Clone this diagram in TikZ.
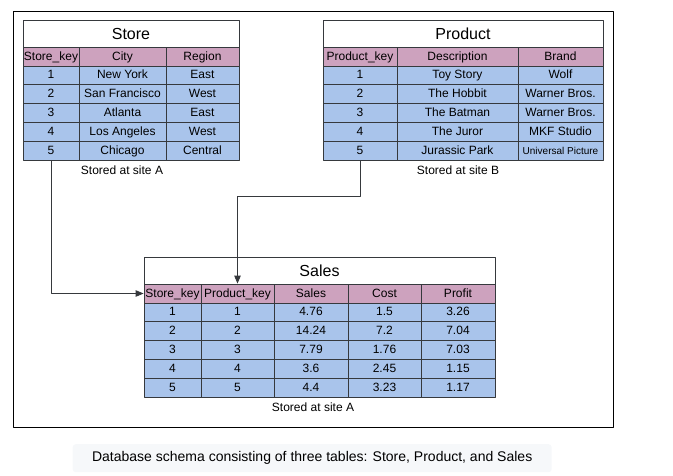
\documentclass[tikz,border=0pt]{standalone}
\usepackage{fontspec}
\setmainfont{Liberation Sans}
\usetikzlibrary{arrows}
\definecolor{headpink}{HTML}{CDA2BE}
\definecolor{rowblue}{HTML}{A9C4EB}
\definecolor{cellline}{HTML}{36393D}
\definecolor{capbg}{HTML}{F6F8FA}

\begin{document}
\begin{tikzpicture}[line cap=round,line join=round,>=triangle 45,x=1pt,y=-1pt,
		cw/.style={minimum width=#1},
		titlebox/.style={draw=cellline,fill=white,line width=0.8pt,minimum height=27pt,inner sep=0pt,text height=11.5pt,text depth=0.5pt,font=\fontsize{16}{18}\selectfont},
		headcell/.style={draw=cellline,fill=headpink,line width=0.9pt,minimum height=19pt,inner sep=0pt,text height=8.7pt,text depth=1.6pt,font=\fontsize{12}{14}\selectfont},
		datacell/.style={draw=cellline,fill=rowblue,line width=0.9pt,minimum height=18.8pt,inner sep=0pt,text height=8.7pt,text depth=1.6pt,font=\fontsize{12}{14}\selectfont},
		sitenote/.style={text height=8.7pt,text depth=2.6pt,font=\fontsize{12}{14}\selectfont}]
			\useasboundingbox (0,0) rectangle (673,475);
			\draw [line width=1pt] (13,11) rectangle (613,427);
			% Store
			\node[titlebox,cw=216pt] (store) at (131,33.5) {Store};
			\node[headcell,cw=56pt] (storekey) at (51,56.5) {Store\_key};
			\node[headcell,cw=87pt] (city) at (122.5,56.5) {City};
			\node[headcell,cw=73pt] (region) at (202.5,56.5) {Region};
			\node[datacell,cw=56pt] (st1k) at (51,75.4) {1};
			\node[datacell,cw=87pt] (st1c) at (122.5,75.4) {New York};
			\node[datacell,cw=73pt] (st1r) at (202.5,75.4) {East};
			\node[datacell,cw=56pt] (st2k) at (51,94.2) {2};
			\node[datacell,cw=87pt] (st2c) at (122.5,94.2) {San Francisco};
			\node[datacell,cw=73pt] (st2r) at (202.5,94.2) {West};
			\node[datacell,cw=56pt] (st3k) at (51,113) {3};
			\node[datacell,cw=87pt] (st3c) at (122.5,113) {Atlanta};
			\node[datacell,cw=73pt] (st3r) at (202.5,113) {East};
			\node[datacell,cw=56pt] (st4k) at (51,131.8) {4};
			\node[datacell,cw=87pt] (st4c) at (122.5,131.8) {Los Angeles};
			\node[datacell,cw=73pt] (st4r) at (202.5,131.8) {West};
			\node[datacell,cw=56pt] (st5k) at (51,150.6) {5};
			\node[datacell,cw=87pt] (st5c) at (122.5,150.6) {Chicago};
			\node[datacell,cw=73pt] (st5r) at (202.5,150.6) {Central};
			\node[sitenote] (storesite) at (122,171) {Stored at site A};
			% Product
			\node[titlebox,cw=280pt] (product) at (463,33.5) {Product};
			\node[headcell,cw=74pt] (productkey) at (360,56.5) {Product\_key};
			\node[headcell,cw=121pt] (descr) at (457.5,56.5) {Description};
			\node[headcell,cw=85pt] (brand) at (560.5,56.5) {Brand};
			\node[datacell,cw=74pt] (pr1k) at (360,75.4) {1};
			\node[datacell,cw=121pt] (pr1d) at (457.5,75.4) {Toy Story};
			\node[datacell,cw=85pt] (pr1b) at (560.5,75.4) {Wolf};
			\node[datacell,cw=74pt] (pr2k) at (360,94.2) {2};
			\node[datacell,cw=121pt] (pr2d) at (457.5,94.2) {The Hobbit};
			\node[datacell,cw=85pt] (pr2b) at (560.5,94.2) {Warner Bros.};
			\node[datacell,cw=74pt] (pr3k) at (360,113) {3};
			\node[datacell,cw=121pt] (pr3d) at (457.5,113) {The Batman};
			\node[datacell,cw=85pt] (pr3b) at (560.5,113) {Warner Bros.};
			\node[datacell,cw=74pt] (pr4k) at (360,131.8) {4};
			\node[datacell,cw=121pt] (pr4d) at (457.5,131.8) {The Juror};
			\node[datacell,cw=85pt] (pr4b) at (560.5,131.8) {MKF Studio};
			\node[datacell,cw=74pt] (pr5k) at (360,150.6) {5};
			\node[datacell,cw=121pt] (pr5d) at (457.5,150.6) {Jurassic Park};
			\node[datacell,cw=85pt,font=\fontsize{10}{12}\selectfont] (pr5b) at (560.5,150.6) {Universal Picture};
			\node[sitenote] (productsite) at (458,171) {Stored at site B};
			% Sales
			\node[titlebox,cw=351pt] (sales) at (319.5,270.5) {Sales};
			\node[headcell,cw=57pt] (skey) at (172.5,293.5) {Store\_key};
			\node[headcell,cw=73pt] (pkey) at (237.5,293.5) {Product\_key};
			\node[headcell,cw=74pt] (amount) at (311,293.5) {Sales};
			\node[headcell,cw=73pt] (cost) at (384.5,293.5) {Cost};
			\node[headcell,cw=74pt] (profit) at (458,293.5) {Profit};
			\node[datacell,cw=57pt] (sa1s) at (172.5,312.4) {1};
			\node[datacell,cw=73pt] (sa1p) at (237.5,312.4) {1};
			\node[datacell,cw=74pt] (sa1a) at (311,312.4) {4.76};
			\node[datacell,cw=73pt] (sa1c) at (384.5,312.4) {1.5};
			\node[datacell,cw=74pt] (sa1f) at (458,312.4) {3.26};
			\node[datacell,cw=57pt] (sa2s) at (172.5,331.2) {2};
			\node[datacell,cw=73pt] (sa2p) at (237.5,331.2) {2};
			\node[datacell,cw=74pt] (sa2a) at (311,331.2) {14.24};
			\node[datacell,cw=73pt] (sa2c) at (384.5,331.2) {7.2};
			\node[datacell,cw=74pt] (sa2f) at (458,331.2) {7.04};
			\node[datacell,cw=57pt] (sa3s) at (172.5,350) {3};
			\node[datacell,cw=73pt] (sa3p) at (237.5,350) {3};
			\node[datacell,cw=74pt] (sa3a) at (311,350) {7.79};
			\node[datacell,cw=73pt] (sa3c) at (384.5,350) {1.76};
			\node[datacell,cw=74pt] (sa3f) at (458,350) {7.03};
			\node[datacell,cw=57pt] (sa4s) at (172.5,368.8) {4};
			\node[datacell,cw=73pt] (sa4p) at (237.5,368.8) {4};
			\node[datacell,cw=74pt] (sa4a) at (311,368.8) {3.6};
			\node[datacell,cw=73pt] (sa4c) at (384.5,368.8) {2.45};
			\node[datacell,cw=74pt] (sa4f) at (458,368.8) {1.15};
			\node[datacell,cw=57pt] (sa5s) at (172.5,387.6) {5};
			\node[datacell,cw=73pt] (sa5p) at (237.5,387.6) {5};
			\node[datacell,cw=74pt] (sa5a) at (311,387.6) {4.4};
			\node[datacell,cw=73pt] (sa5c) at (384.5,387.6) {3.23};
			\node[datacell,cw=74pt] (sa5f) at (458,387.6) {1.17};
			\node[sitenote] (salessite) at (313,408) {Stored at site A};
			% keys
			\draw [->,color=cellline,line width=0.8pt] (st5k.south) |- (skey.west);
			\draw [->,color=cellline,line width=0.8pt] (pr5k.south) -- ++(0,36) -| (pkey.north);
			\node[fill=capbg,rounded corners=3pt,minimum width=479pt,minimum height=28pt,inner sep=0pt,text height=10pt,text depth=3pt,font=\fontsize{14}{16}\selectfont] (caption) at (312.2,458.2) {Database schema consisting of three tables: Store, Product, and Sales};
		\end{tikzpicture}
\end{document}
